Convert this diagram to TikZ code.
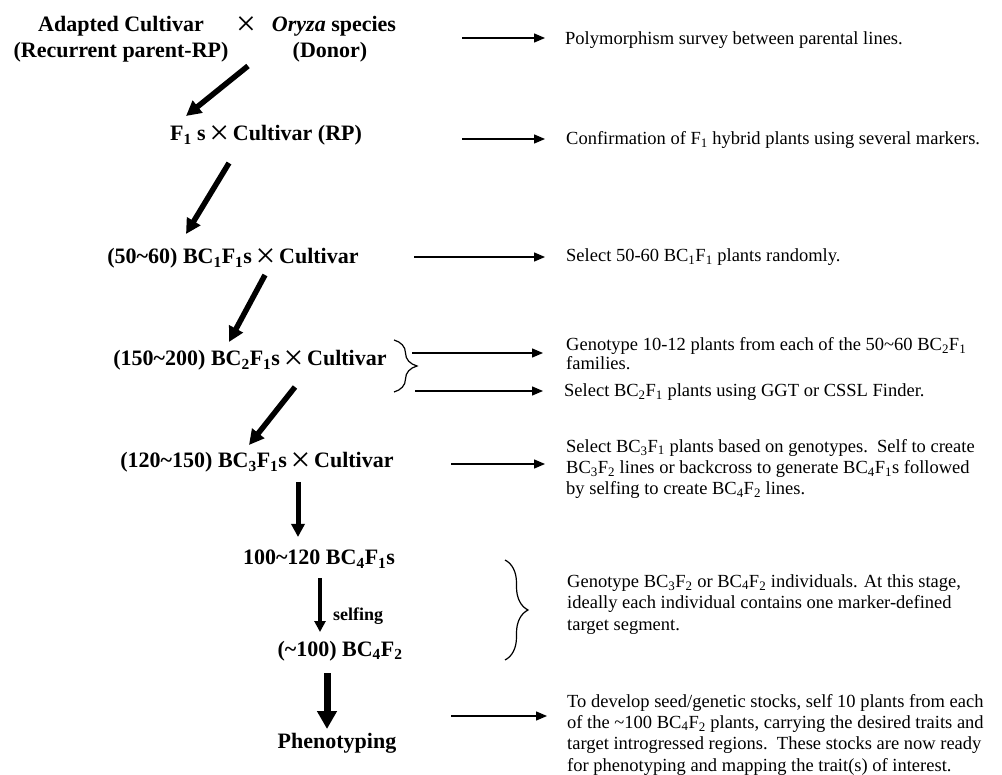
\documentclass[tikz,border=0pt]{standalone}
\usepackage{fontspec}
\usepackage{graphicx}
\setmainfont{Liberation Serif}
\usetikzlibrary{arrows.meta,decorations.pathreplacing}
\newcommand{\crx}{{\mdseries\fontsize{22}{22}\selectfont\,\raisebox{-3.5pt}{\scalebox{1.6}{×}}\,}}
\newcommand{\sbs}[1]{\textsubscript{#1}}
\tikzset{
  lt/.style={font=\fontsize{22}{26}\selectfont\bfseries, inner sep=0pt, anchor=base},
  note/.style={font=\fontsize{18.5}{21.3}\selectfont, inner sep=0pt, anchor=base west, align=left},
  bigarr/.style={line width=5.5pt, -{Triangle[length=15pt,width=15pt]}},
  midarr/.style={line width=5pt, -{Triangle[length=13pt,width=13pt]}},
  selfarr/.style={line width=4pt, -{Triangle[length=11pt,width=11pt]}},
  fatarr/.style={line width=7pt, -{Triangle[length=18pt,width=19pt]}},
  thinarr/.style={line width=1.3pt, -{Triangle[length=11pt,width=9pt]}},
  brc/.style={decorate, decoration={brace, amplitude=23pt}, line width=1.2pt}
}
\begin{document}
\begin{tikzpicture}[x=1pt,y=-1pt]
\useasboundingbox (0,0) rectangle (1002,775);
% left column
\node[lt] (rpa) at (121,32) {Adapted Cultivar};
\node[lt] (rpb) at (121,58) {(Recurrent parent-RP)};
\node[lt] (cr1) at (246,32) {\crx};
\node[lt] (dna) at (334,32) {\textit{Oryza} species};
\node[lt] (dnb) at (330,58) {(Donor)};
\node[lt] (f1) at (266,141) {F\sbs{1} s\crx Cultivar (RP)};
\node[lt] (bc1) at (233,264) {(50\textasciitilde60) BC\sbs{1}F\sbs{1}s\crx Cultivar};
\node[lt] (bc2) at (250,366) {(150\textasciitilde200) BC\sbs{2}F\sbs{1}s\crx Cultivar};
\node[lt] (bc3) at (257,468) {(120\textasciitilde150) BC\sbs{3}F\sbs{1}s\crx Cultivar};
\node[lt] (bc4) at (319,565) {100\textasciitilde120 BC\sbs{4}F\sbs{1}s};
\node[lt, font=\fontsize{18}{20}\selectfont\bfseries, anchor=base west] (self) at (333,620) {selfing};
\node[lt] (bcf2) at (340,656) {(\textasciitilde100) BC\sbs{4}F\sbs{2}};
\node[lt] (ph) at (337,748) {Phenotyping};
% vertical/diagonal arrows
\coordinate (a1s) at (248,66);  \coordinate (a1e) at (186,116);
\coordinate (a2s) at (229,163); \coordinate (a2e) at (186,234);
\coordinate (a3s) at (265,275); \coordinate (a3e) at (229,342);
\coordinate (a4s) at (295,387); \coordinate (a4e) at (249,445);
\coordinate (a5s) at (298,482); \coordinate (a5e) at (298,537);
\coordinate (a6s) at (320,578); \coordinate (a6e) at (320,632);
\coordinate (a7s) at (327,673); \coordinate (a7e) at (327,729);
\draw[bigarr] (a1s) -- (a1e);
\draw[bigarr] (a2s) -- (a2e);
\draw[bigarr] (a3s) -- (a3e);
\draw[bigarr] (a4s) -- (a4e);
\draw[midarr] (a5s) -- (a5e);
\draw[selfarr] (a6s) -- (a6e);
\draw[fatarr] (a7s) -- (a7e);
% braces
\coordinate (b1t) at (394,340); \coordinate (b1b) at (394,392);
\coordinate (b2t) at (505,560); \coordinate (b2b) at (505,660);
\draw[brc] (b1t) -- (b1b);
\draw[brc] (b2t) -- (b2b);
% right notes (anchor = baseline of the last line)
\node[note] (n1) at (565,45) {Polymorphism survey between parental lines.};
\node[note] (n2) at (566,145) {Confirmation of F\sbs{1} hybrid plants using several markers.};
\node[note] (n3) at (566,262) {Select 50-60 BC\sbs{1}F\sbs{1} plants randomly.};
\node[note, font=\fontsize{18.5}{19}\selectfont] (n4) at (566,370) {Genotype 10-12 plants from each of the 50\textasciitilde60 BC\sbs{2}F\sbs{1}\\families.};
\node[note] (n4b) at (564,397) {Select BC\sbs{2}F\sbs{1} plants using GGT or CSSL Finder.};
\node[note] (n5) at (566,495) {Select BC\sbs{3}F\sbs{1} plants based on genotypes.\ \ Self to create\\BC\sbs{3}F\sbs{2} lines or backcross to generate BC\sbs{4}F\sbs{1}s followed\\by selfing to create BC\sbs{4}F\sbs{2} lines.};
\node[note] (n6) at (567,630) {Genotype BC\sbs{3}F\sbs{2} or BC\sbs{4}F\sbs{2} individuals. At this stage,\\ideally each individual contains one marker-defined\\target segment.};
\node[note] (n7) at (567,771) {To develop seed/genetic stocks, self 10 plants from each\\of the \textasciitilde100 BC\sbs{4}F\sbs{2} plants, carrying the desired traits and\\target introgressed regions.\ \ These stocks are now ready\\for phenotyping and mapping the trait(s) of interest.};
% right arrows
\coordinate (r1s) at (462,38);  \coordinate (r1e) at (545,38);
\coordinate (r2s) at (462,139); \coordinate (r2e) at (545,139);
\coordinate (r3s) at (414,257); \coordinate (r3e) at (545,257);
\coordinate (r4s) at (412,353); \coordinate (r4e) at (543,353);
\coordinate (r5s) at (415,391); \coordinate (r5e) at (543,391);
\coordinate (r6s) at (451,464); \coordinate (r6e) at (545,464);
\coordinate (r7s) at (451,716); \coordinate (r7e) at (547,716);
\draw[thinarr] (r1s) -- (r1e);
\draw[thinarr] (r2s) -- (r2e);
\draw[thinarr] (r3s) -- (r3e);
\draw[thinarr] (r4s) -- (r4e);
\draw[thinarr] (r5s) -- (r5e);
\draw[thinarr] (r6s) -- (r6e);
\draw[thinarr] (r7s) -- (r7e);
\end{tikzpicture}
\end{document}
